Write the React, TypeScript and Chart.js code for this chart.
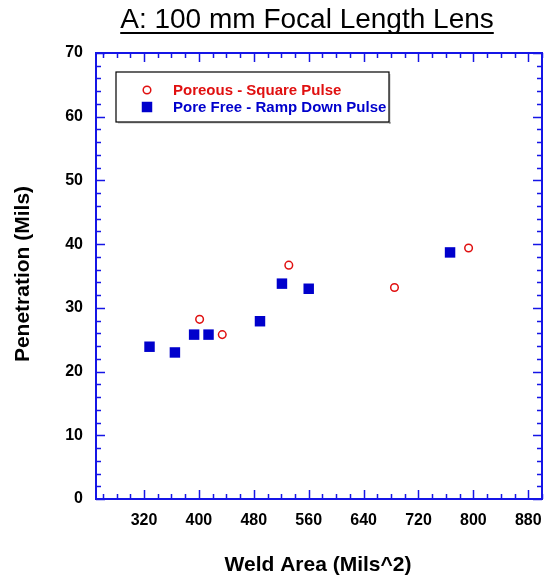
import React, { useEffect, useRef } from "react";
import { Chart, registerables } from "chart.js";

Chart.register(...registerables);

const TITLE = "A: 100 mm Focal Length Lens";
const X_TITLE = "Weld Area (Mils^2)";
const Y_TITLE = "Penetration (Mils)";

const SERIES_POREOUS = "Poreous - Square Pulse";
const SERIES_PORE_FREE = "Pore Free - Ramp Down Pulse";

const poreousX = [401, 434, 531, 685, 793];
const poreousY = [28.2, 25.8, 36.7, 33.2, 39.4];

const poreFreeX = [328, 365, 393, 414, 489, 521, 560, 766];
const poreFreeY = [23.9, 23.0, 25.8, 25.8, 27.9, 33.8, 33.0, 38.7];

const xTickValues = [320, 400, 480, 560, 640, 720, 800, 880];
const yTickValues = [0, 10, 20, 30, 40, 50, 60, 70];

const X_MIN = 250;
const X_MAX = 900;
const Y_MIN = 0;
const Y_MAX = 70;
const X_MINOR = 20;
const X_MAJOR = 80;
const Y_MINOR = 2;
const Y_MAJOR = 10;

const FONT = '"Liberation Sans", Arial, Helvetica, sans-serif';
const AXIS_BLUE = "#1515e6";
const RED = "#e01010";
const BLUE = "#0000cc";

const framePlugin = {
  id: "frame",
  beforeDatasetsDraw(chart: any) {
    const { ctx, chartArea } = chart;
    const { left, right, top, bottom } = chartArea;
    const xs = chart.scales.x;
    const ys = chart.scales.y;
    ctx.save();
    ctx.strokeStyle = AXIS_BLUE;
    ctx.lineWidth = 1.5;
    const x0 = Math.ceil(xs.min / X_MINOR) * X_MINOR;
    for (let v = x0; v <= xs.max + 1e-9; v += X_MINOR) {
      const px = Math.round(xs.getPixelForValue(v)) + 0.5;
      const len = v % X_MAJOR === 0 ? 9 : 5;
      ctx.beginPath();
      ctx.moveTo(px, bottom);
      ctx.lineTo(px, bottom - len);
      ctx.moveTo(px, top);
      ctx.lineTo(px, top + len);
      ctx.stroke();
    }
    const y0 = Math.ceil(ys.min / Y_MINOR) * Y_MINOR;
    for (let v = y0; v <= ys.max + 1e-9; v += Y_MINOR) {
      const py = Math.round(ys.getPixelForValue(v)) + 0.5;
      const len = v % Y_MAJOR === 0 ? 9 : 5;
      ctx.beginPath();
      ctx.moveTo(left, py);
      ctx.lineTo(left + len, py);
      ctx.moveTo(right, py);
      ctx.lineTo(right - len, py);
      ctx.stroke();
    }
    ctx.lineWidth = 2;
    ctx.strokeRect(left, top, right - left, bottom - top);
    ctx.restore();
  },
  afterDraw(chart: any) {
    const { ctx, chartArea } = chart;
    const { left, top } = chartArea;
    ctx.save();
    ctx.fillStyle = "#000";
    ctx.font = `28px ${FONT}`;
    ctx.textAlign = "center";
    ctx.textBaseline = "alphabetic";
    const tx = 307;
    ctx.fillText(TITLE, tx, 28);
    const tw = ctx.measureText(TITLE).width;
    ctx.fillRect(tx - tw / 2, 32, tw, 2);

    ctx.font = `bold 21px ${FONT}`;
    ctx.textBaseline = "middle";
    ctx.fillText(X_TITLE, 318, 565);
    ctx.save();
    ctx.translate(23, 274);
    ctx.rotate(-Math.PI / 2);
    ctx.fillText(Y_TITLE, 0, 0);
    ctx.restore();

    const bx = left + 20, by = top + 19, bw = 273, bh = 50;
    ctx.fillStyle = "#fff";
    ctx.fillRect(bx, by, bw, bh);
    ctx.fillStyle = "rgba(0,0,0,0.25)";
    ctx.fillRect(bx + 2, by + bh, bw, 1.5);
    ctx.fillRect(bx + bw, by + 2, 1.5, bh);
    ctx.strokeStyle = "#000";
    ctx.lineWidth = 1.2;
    ctx.strokeRect(bx, by, bw, bh);
    const items = chart.data.datasets;
    const rowY = [by + 18, by + 35];
    items.forEach((ds: any, i: number) => {
      const my = rowY[i];
      const mx = bx + 31;
      ctx.save();
      ctx.lineWidth = ds.borderWidth;
      ctx.strokeStyle = ds.borderColor;
      ctx.fillStyle = ds.backgroundColor;
      if (ds.pointStyle === "circle") {
        ctx.beginPath();
        ctx.arc(mx, my, ds.pointRadius, 0, Math.PI * 2);
        ctx.fill();
        ctx.stroke();
      } else {
        const s = Math.SQRT1_2 * ds.pointRadius;
        ctx.fillRect(mx - s, my - s, 2 * s, 2 * s);
      }
      ctx.restore();
      ctx.fillStyle = ds.legendColor;
      ctx.font = `bold 15px ${FONT}`;
      ctx.textAlign = "left";
      ctx.textBaseline = "middle";
      ctx.fillText(ds.label, bx + 57, my + 1);
    });
    ctx.restore();
  },
};

export default function App() {
  const ref = useRef<HTMLCanvasElement | null>(null);
  useEffect(() => {
    const canvas = ref.current;
    if (!canvas) return;
    const chart = new Chart(canvas, {
      type: "scatter",
      data: {
        datasets: [
          {
            label: SERIES_POREOUS,
            data: poreousX.map((x, i) => ({ x, y: poreousY[i] })),
            pointStyle: "circle",
            pointRadius: 3.8,
            borderWidth: 1.5,
            borderColor: RED,
            backgroundColor: "#ffffff",
            legendColor: RED,
          } as any,
          {
            label: SERIES_PORE_FREE,
            data: poreFreeX.map((x, i) => ({ x, y: poreFreeY[i] })),
            pointStyle: "rect",
            pointRadius: 7.4,
            borderWidth: 0,
            borderColor: BLUE,
            backgroundColor: BLUE,
            legendColor: BLUE,
          } as any,
        ],
      },
      options: {
        animation: false,
        responsive: false,
        devicePixelRatio: 1,
        layout: { autoPadding: false, padding: { left: 0, right: 2, top: 53, bottom: 0 } },
        plugins: {
          legend: { display: false },
          title: { display: false },
          tooltip: { enabled: false },
        },
        scales: {
          x: {
            type: "linear",
            min: X_MIN,
            max: X_MAX,
            grid: { display: false, drawTicks: false },
            border: { display: false },
            afterBuildTicks: (s: any) => {
              s.ticks = xTickValues.map((v) => ({ value: v }));
            },
            afterFit: (s: any) => {
              s.height = 78;
              s.paddingLeft = 0;
              s.paddingRight = 0;
            },
            ticks: {
              padding: 12,
              maxRotation: 0,
              autoSkip: false,
              color: "#000",
              font: { family: FONT, size: 16, weight: "bold" },
            },
          },
          y: {
            type: "linear",
            min: Y_MIN,
            max: Y_MAX,
            grid: { display: false, drawTicks: false },
            border: { display: false },
            afterBuildTicks: (s: any) => {
              s.ticks = yTickValues.map((v) => ({ value: v }));
            },
            afterFit: (s: any) => {
              s.width = 96;
              s.paddingTop = 0;
              s.paddingBottom = 0;
            },
            ticks: {
              padding: 13,
              autoSkip: false,
              color: "#000",
              font: { family: FONT, size: 16, weight: "bold" },
            },
          },
        },
      } as any,
      plugins: [framePlugin],
    });
    return () => chart.destroy();
  }, []);
  return (
    <div style={{ position: "fixed", left: 0, top: 0, width: 544, height: 577, background: "#fff" }}>
      <canvas ref={ref} width={544} height={577} style={{ display: "block" }} />
    </div>
  );
}
